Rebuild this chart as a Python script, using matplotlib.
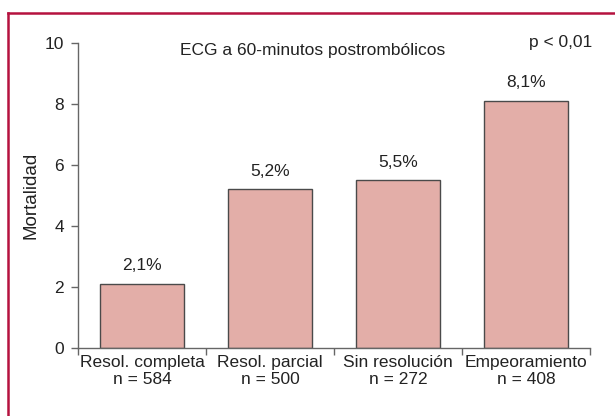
import matplotlib.pyplot as plt
from matplotlib.lines import Line2D

categorias = ["Resol. completa", "Resol. parcial", "Sin resolución", "Empeoramiento"]
n_pacientes = [584, 500, 272, 408]
mortalidad = [2.1, 5.2, 5.5, 8.1]
etiquetas = ["2,1%", "5,2%", "5,5%", "8,1%"]

plt.rcParams["font.family"] = ["Liberation Sans", "DejaVu Sans"]

fig = plt.figure(figsize=(6.15, 4.16), dpi=100)
ax = fig.add_axes([78 / 615, 1 - 348 / 416, 512 / 615, 305 / 416])

x = list(range(len(categorias)))
ax.bar(x, mortalidad, width=0.664, color="#e3aea8", edgecolor="#4a4a4a", linewidth=1)

for xi, v, lab in zip(x, mortalidad, etiquetas):
    ax.text(xi, v + 0.35, lab, ha="center", va="bottom", fontsize=12.5, color="#222222")

ax.set_xlim(-0.5, len(categorias) - 0.5)
ax.set_ylim(0, 10)
ax.set_yticks([0, 2, 4, 6, 8, 10])
ax.set_xticks([i - 0.5 for i in range(len(categorias) + 1)])
ax.set_xticklabels([])
ax.set_xticks(x, [f"{c}\nn = {n}" for c, n in zip(categorias, n_pacientes)], minor=True)
ax.tick_params(axis="y", length=5, width=1, color="#666666", labelsize=12.5,
               labelcolor="#222222", pad=5)
ax.tick_params(axis="x", which="major", length=5, width=1, color="#666666")
ax.tick_params(axis="x", which="minor", length=0, pad=5, labelsize=12.5,
               labelcolor="#222222")
for lbl in ax.get_xticklabels(minor=True):
    lbl.set_linespacing(1.15)
for s in ["top", "right"]:
    ax.spines[s].set_visible(False)
for s in ["left", "bottom"]:
    ax.spines[s].set_color("#666666")
    ax.spines[s].set_linewidth(1)

ax.set_ylabel("Mortalidad", fontsize=13.5, color="#222222", labelpad=4)

fig.text(313 / 615, 1 - 50 / 416, "ECG a 60-minutos postrombólicos", ha="center",
         va="center", fontsize=12.5, color="#222222")
fig.text(561 / 615, 1 - 43 / 416, "p < 0,01", ha="center", va="center",
         fontsize=12.5, color="#222222")

# marco rojo (solo lados visibles)
fig.add_artist(Line2D([8 / 615, 8 / 615], [0, 1 - 13 / 416], color="#b5123f",
                      linewidth=1.8, transform=fig.transFigure))
fig.add_artist(Line2D([7.5 / 615, 1], [1 - 13 / 416, 1 - 13 / 416], color="#b5123f",
                      linewidth=1.8, transform=fig.transFigure))

fig.savefig("out.png", dpi=100)
